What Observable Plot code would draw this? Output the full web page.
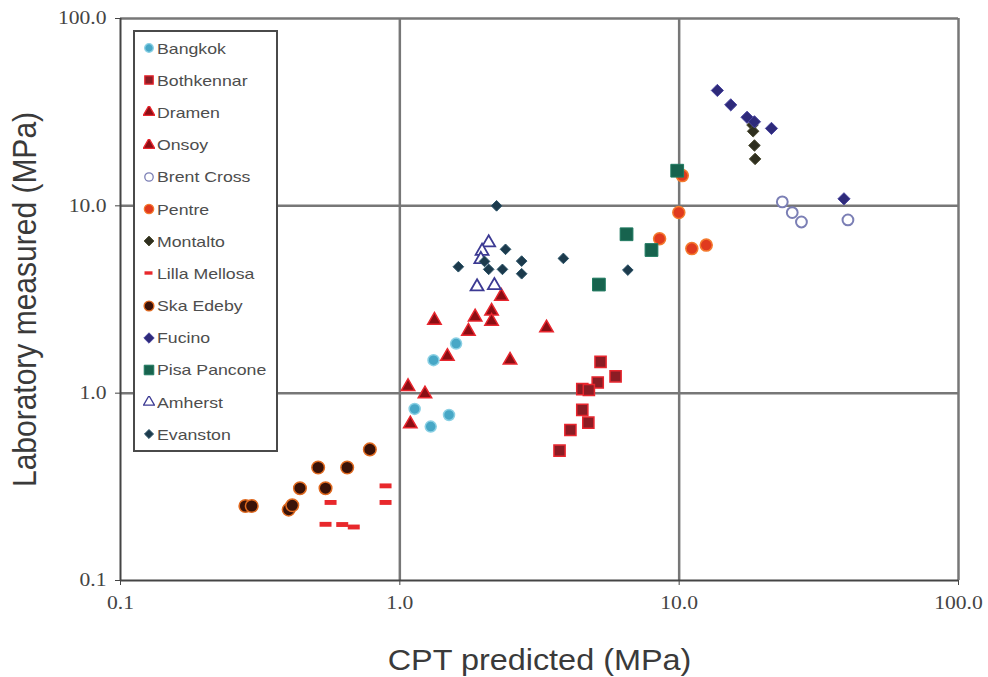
<!DOCTYPE html>
<html>
<head>
<meta charset="utf-8">
<script src="https://cdn.jsdelivr.net/npm/d3@7"></script>
<script src="https://cdn.jsdelivr.net/npm/@observablehq/plot@0.6"></script>
<style>
  body { margin: 0; background: #fff; }
  #chart { position: relative; width: 988px; height: 677px; }
  #legend {
    position: absolute; left: 133px; top: 30px; width: 141px;
    border: 2px solid #4a4a4a; background: #fff;
    font-family: "Liberation Sans", Arial, sans-serif; font-size: 15px; color: #4d4d4d;
  }
  #legend .row { height: 32.2px; display: flex; align-items: center; }
  #legend .row svg { flex: none; margin-left: 8px; }
  #legend .row span {
    display: inline-block; transform: scaleX(1.18); transform-origin: 0 50%;
    margin-left: 2px; white-space: nowrap;
  }
</style>
</head>
<body>
<div id="chart"></div>
<script>
// CPT predicted vs laboratory measured values (MPa), one [x, y] list per site
const bangkok = [[1.59, 1.84], [1.32, 1.50], [1.13, 0.824], [1.50, 0.765], [1.29, 0.663]];
const bothkennar = [[5.23, 1.47], [5.92, 1.23], [5.11, 1.14], [4.50, 1.05], [4.75, 1.04], [4.50, 0.814], [4.73, 0.696], [4.08, 0.636], [3.73, 0.493]];
const dramen = [[1.07, 1.085], [1.23, 0.99], [1.09, 0.685], [1.48, 1.57], [1.76, 2.14], [1.33, 2.45]];
const onsoy = [[1.86, 2.55], [2.13, 2.74], [2.13, 2.42], [2.31, 3.29], [2.48, 1.50], [3.35, 2.23]];
const brentCross = [[23.4, 10.5], [25.4, 9.21], [27.4, 8.20], [40.2, 8.41]];
const pentre = [[10.26, 14.5], [9.97, 9.21], [8.51, 6.68], [11.1, 5.91], [12.5, 6.17]];
const montalto = [[18.3, 27], [18.4, 25], [18.6, 21], [18.7, 17.8]];
const lillaMellosa = [[0.889, 0.320], [0.889, 0.261], [0.565, 0.261], [0.542, 0.1995], [0.622, 0.199], [0.684, 0.193]];
const skaEdeby = [[0.280, 0.250], [0.295, 0.250], [0.400, 0.239], [0.412, 0.252], [0.439, 0.311], [0.542, 0.311], [0.510, 0.401], [0.648, 0.401], [0.781, 0.501]];
const fucino = [[13.7, 41.3], [15.3, 34.6], [17.5, 29.7], [18.6, 28.1], [21.4, 25.9], [38.9, 10.9]];
const pisaPancone = [[9.84, 15.4], [6.48, 7.05], [7.96, 5.81], [5.16, 3.80]];
const amherst = [[2.08, 6.36], [1.97, 5.73], [1.95, 5.18], [1.89, 3.70], [2.18, 3.76]];
const evanston = [[2.22, 10.0], [2.39, 5.86], [1.62, 4.73], [2.73, 5.07], [3.85, 5.24], [2.08, 4.58], [2.33, 4.58], [2.73, 4.34], [6.55, 4.54], [2.01, 5.05]];

const axisTicks = [0.1, 1, 10, 100];
const gridTicks = [1, 10, 100];
const xTitle = "CPT predicted (MPa)";
const yTitle = "Laboratory measured (MPa)";

// short horizontal bar used for the Lilla Mellosa points
const dash = {
  draw(context, size) {
    const s = Math.sqrt(size);
    const w = s * 1.35, h = s * 0.55;
    context.rect(-w / 2, -h / 2, w, h);
  }
};

const series = [
  {name: "Bangkok", data: bangkok, symbol: "circle", r: 5.5, fill: "#47a7c6", stroke: "#8ad0e4", sw: 1.5},
  {name: "Bothkennar", data: bothkennar, symbol: "square", r: 6.3, fill: "#8b1c24", stroke: "#e8262e", sw: 1.5},
  {name: "Dramen", data: dramen, symbol: "triangle", r: 5, fill: "#8b0e14", stroke: "#e8262e", sw: 1.5},
  {name: "Onsoy", data: onsoy, symbol: "triangle", r: 5, fill: "#8b0e14", stroke: "#e8262e", sw: 1.5},
  {name: "Brent Cross", data: brentCross, symbol: "circle", r: 5.4, fill: "#fff", stroke: "#7b7fb5", sw: 2},
  {name: "Pentre", data: pentre, symbol: "circle", r: 6, fill: "#e03a1e", stroke: "#f47a2e", sw: 1.5},
  {name: "Montalto", data: montalto, symbol: "diamond2", r: 5.2, fill: "#2f2f1f", stroke: "#4a4a30", sw: 1},
  {name: "Lilla Mellosa", data: lillaMellosa, symbol: dash, r: 5, fill: "#e8282c", stroke: "none", sw: 0},
  {name: "Ska Edeby", data: skaEdeby, symbol: "circle", r: 6.3, fill: "#3a1208", stroke: "#e06a20", sw: 1.5},
  {name: "Fucino", data: fucino, symbol: "diamond2", r: 5.5, fill: "#2e2a7a", stroke: "#4a46a0", sw: 1},
  {name: "Pisa Pancone", data: pisaPancone, symbol: "square", r: 7.2, fill: "#17634e", stroke: "#1f7a60", sw: 1},
  {name: "Amherst", data: amherst, symbol: "triangle", r: 4.8, fill: "#fff", stroke: "#3c3a93", sw: 1.8},
  {name: "Evanston", data: evanston, symbol: "diamond2", r: 4.8, fill: "#1c3a4c", stroke: "#2c5468", sw: 1}
];

const plot = Plot.plot({
  width: 988,
  height: 677,
  marginLeft: 120,
  marginRight: 30,
  marginTop: 18,
  marginBottom: 97,
  style: {fontFamily: "'Liberation Serif', 'Times New Roman', serif", fontSize: "18px", color: "#444", background: "#fff"},
  x: {type: "log", domain: [0.1, 100]},
  y: {type: "log", domain: [0.1, 100]},
  marks: [
    Plot.gridX(gridTicks, {stroke: "#777", strokeWidth: 2.5, strokeOpacity: 1}),
    Plot.gridY(gridTicks, {stroke: "#777", strokeWidth: 2.5, strokeOpacity: 1}),
    Plot.ruleX([0.1], {stroke: "#444", strokeWidth: 2}),
    Plot.ruleY([0.1], {stroke: "#444", strokeWidth: 2}),
    Plot.axisX({ticks: axisTicks, tickFormat: d => d.toFixed(1), tickSize: 5, tickPadding: 11, label: null, stroke: "#444"}),
    Plot.axisY({ticks: axisTicks, tickFormat: d => d.toFixed(1), tickSize: 5, tickPadding: 9, label: null, stroke: "#444"}),
    ...series.map(s => Plot.dot(s.data, {
      x: d => d[0], y: d => d[1], symbol: s.symbol, r: s.r,
      fill: s.fill, stroke: s.stroke, strokeWidth: s.sw, fillOpacity: 1
    })),
    Plot.text([xTitle], {frameAnchor: "bottom", lineAnchor: "middle", textAnchor: "middle", dy: 80, text: d => d,
      fontFamily: "'Liberation Sans', Arial, sans-serif", fontSize: 30, fill: "#3a3a3a", className: "title"}),
    Plot.text([yTitle], {frameAnchor: "left", lineAnchor: "middle", textAnchor: "middle", dx: -95, rotate: -90, text: d => d,
      fontFamily: "'Liberation Sans', Arial, sans-serif", fontSize: 30, fill: "#3a3a3a", className: "title"})
  ]
});

const chart = document.getElementById("chart");
chart.appendChild(plot);

// widen labels horizontally around their anchor point
plot.querySelectorAll("text").forEach(t => {
  const k = t.closest(".title") ? 1.08 : 1.2;
  const tr = t.getAttribute("transform");
  if (tr && /^translate\(/.test(tr)) {
    t.setAttribute("transform", tr.replace(/^(translate\([^)]*\))/, `$1 scale(${k},1)`));
  }
});

// legend box
const symbolTypes = {circle: d3.symbolCircle, square: d3.symbolSquare, triangle: d3.symbolTriangle, diamond2: d3.symbolDiamond2};
const legend = document.createElement("div");
legend.id = "legend";
for (const s of series) {
  const row = document.createElement("div");
  row.className = "row";
  const sw = d3.create("svg").attr("width", 12).attr("height", 12).attr("viewBox", "-6 -6 12 12");
  if (typeof s.symbol === "string") {
    const k = s.symbol === "square" ? 0.75 : s.symbol === "circle" ? 0.78 : 0.85;
    sw.append("path")
      .attr("d", d3.symbol(symbolTypes[s.symbol], Math.PI * (s.r * k) * (s.r * k))())
      .attr("fill", s.fill).attr("stroke", s.stroke).attr("stroke-width", Math.min(s.sw, 1.3));
  } else {
    sw.append("rect").attr("x", -4.5).attr("y", -1.7).attr("width", 8).attr("height", 3.4).attr("fill", s.fill);
  }
  row.appendChild(sw.node());
  const label = document.createElement("span");
  label.textContent = s.name;
  row.appendChild(label);
  legend.appendChild(row);
}
chart.appendChild(legend);
</script>
</body>
</html>
